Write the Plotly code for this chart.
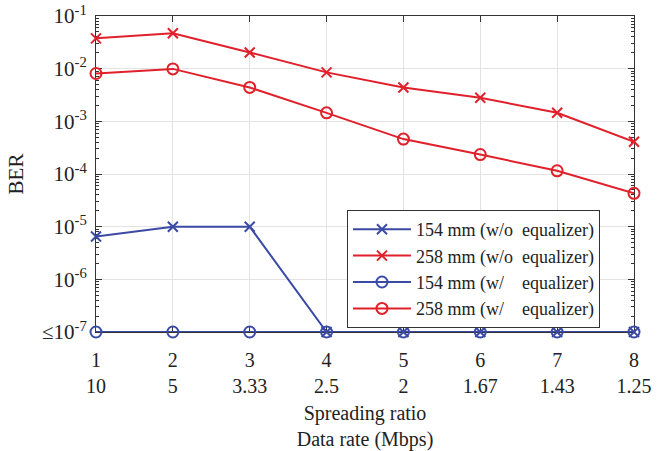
import plotly.graph_objects as go

spreading = [1, 2, 3, 4, 5, 6, 7, 8]
data_rate = ["10", "5", "3.33", "2.5", "2", "1.67", "1.43", "1.25"]

ber_154_wo = [6.5e-6, 1.0e-5, 1.0e-5, 1e-7, 1e-7, 1e-7, 1e-7, 1e-7]
ber_258_wo = [0.0376, 0.047, 0.0203, 0.0085, 0.0044, 0.0028, 0.00145, 0.00041]
ber_154_w = [1e-7, 1e-7, 1e-7, 1e-7, 1e-7, 1e-7, 1e-7, 1e-7]
ber_258_w = [0.0081, 0.0099, 0.0044, 0.00145, 0.00046, 0.000234, 0.000115, 4.3e-5]

y_tickvals = [1e-1, 1e-2, 1e-3, 1e-4, 1e-5, 1e-6, 1e-7]
y_ticktext = ["10<sup>-1</sup>", "10<sup>-2</sup>", "10<sup>-3</sup>", "10<sup>-4</sup>",
              "10<sup>-5</sup>", "10<sup>-6</sup>", "≤10<sup>-7</sup>"]

BLUE = "#3a4aa5"
RED = "#e0202a"
NB = "\u00a0"

series = [
    ("154 mm (w/o" + NB * 2 + "equalizer)", ber_154_wo, BLUE, "x-thin", 10),
    ("258 mm (w/o" + NB * 2 + "equalizer)", ber_258_wo, RED, "x-thin", 10),
    ("154 mm (w/" + NB * 4 + "equalizer)", ber_154_w, BLUE, "circle-open", 11),
    ("258 mm (w/" + NB * 4 + "equalizer)", ber_258_w, RED, "circle-open", 11),
]

fig = go.Figure()
for name, ys, color, sym, size in series:
    fig.add_trace(go.Scatter(
        x=spreading, y=ys, name=name, mode="lines+markers",
        line=dict(color=color, width=2),
        marker=dict(symbol=sym, size=size, color=color, line=dict(color=color, width=2)),
        cliponaxis=False,
    ))

FONT = "Liberation Serif, Times New Roman, serif"
AX = "#333333"
TXT = "#222222"

fig.update_layout(
    width=663, height=451,
    margin=dict(l=96, r=29, t=16, b=119),
    paper_bgcolor="white", plot_bgcolor="white",
    font=dict(family=FONT, size=20, color=TXT),
    showlegend=True,
    legend=dict(
        x=0.4665, y=0.386, xanchor="left", yanchor="top",
        bgcolor="white", bordercolor="#333333", borderwidth=1,
        font=dict(family=FONT, size=18, color=TXT),
        tracegroupgap=0, itemwidth=58,
    ),
)

fig.update_xaxes(
    range=[1, 8], automargin=False, layer="below traces",
    tickmode="array", tickvals=spreading,
    ticktext=[f"{s}<br>{d}" for s, d in zip(spreading, data_rate)],
    tickfont=dict(family=FONT, size=20, color=TXT),
    ticks="inside", ticklen=6, tickcolor=AX,
    showline=True, linecolor=AX, linewidth=1, mirror="ticks",
    showgrid=True, gridcolor="#e3e3e3", gridwidth=1,
    zeroline=False,
    ticklabelstandoff=10, ticklabeloverflow="allow",
    title=dict(text="Spreading ratio<br>Data rate (Mbps)", standoff=12,
               font=dict(family=FONT, size=20, color=TXT)),
)

fig.update_yaxes(
    type="log", range=[-7, -1], automargin=False, layer="below traces",
    tickmode="array", tickvals=y_tickvals, ticktext=y_ticktext,
    tickfont=dict(family=FONT, size=21, color=TXT),
    ticks="inside", ticklen=6, tickcolor=AX,
    minor=dict(ticks="inside", ticklen=3, tickcolor=AX, dtick="D1", showgrid=False),
    showline=True, linecolor=AX, linewidth=1, mirror="ticks",
    showgrid=True, gridcolor="#e3e3e3", gridwidth=1,
    zeroline=False,
    ticklabelstandoff=4, ticklabeloverflow="allow",
    title=dict(text="BER", standoff=12, font=dict(family=FONT, size=21, color=TXT)),
)

# remove the browser's default body margin so the figure fills the window
fig.write_html("out.html", config={"displayModeBar": False},
               post_script="document.body.style.margin='0';")
